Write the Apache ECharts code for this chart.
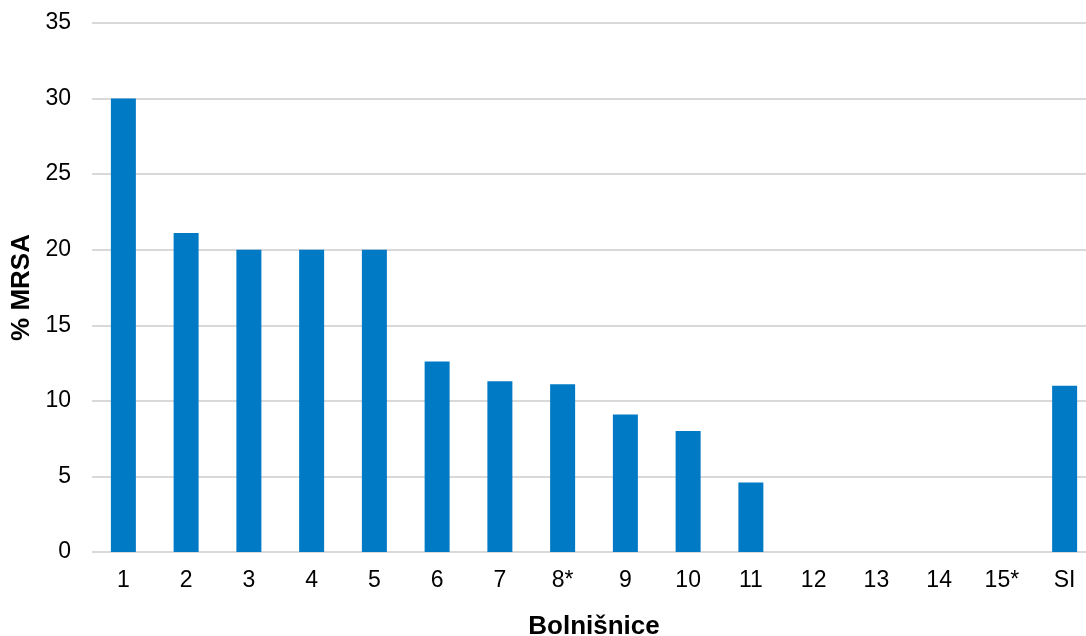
<!DOCTYPE html>
<html>
<head>
<meta charset="utf-8">
<script src="https://cdn.jsdelivr.net/npm/echarts@6/dist/echarts.min.js"></script>
<style>html,body{margin:0;padding:0;background:#fff;overflow:hidden;}#c{width:1086px;height:636px;}</style>
</head>
<body>
<div id="c"></div>
<script>
const categories = ['1','2','3','4','5','6','7','8*','9','10','11','12','13','14','15*','SI'];
const mrsaValues = [30, 21.1, 20, 20, 20, 12.6, 11.3, 11.1, 9.1, 8.0, 4.6, 0, 0, 0, 0, 11.0];
const yTicks = { min: 0, max: 35, interval: 5 };

const FONT = 'Liberation Sans, Arial, sans-serif';
const chart = echarts.init(document.getElementById('c'));
chart.setOption({
  animation: false,
  grid: { left: 92, right: -10, top: 23, bottom: 84, containLabel: false, outerBoundsMode: 'none' },
  xAxis: {
    type: 'category',
    data: categories,
    axisLine: { show: false },
    axisTick: { show: false },
    axisLabel: { color: '#000', fontFamily: FONT, fontSize: 23, margin: 17 },
    name: 'Bolnišnice',
    nameLocation: 'middle',
    nameGap: 62,
    nameTextStyle: { color: '#000', fontFamily: FONT, fontSize: 26, fontWeight: 'bold' }
  },
  yAxis: {
    type: 'value',
    min: yTicks.min, max: yTicks.max, interval: yTicks.interval,
    axisLine: { show: false },
    axisTick: { show: false },
    splitLine: { lineStyle: { color: '#d9d9d9', width: 2 } },
    axisLabel: { color: '#000', fontFamily: FONT, fontSize: 23, margin: 21 },
    name: '% MRSA',
    nameLocation: 'middle',
    nameGap: 57,
    nameTextStyle: { color: '#000', fontFamily: FONT, fontSize: 26, fontWeight: 'bold' }
  },
  series: [{
    type: 'bar',
    data: mrsaValues,
    barWidth: 25,
    itemStyle: { color: '#007ac4' }
  }]
});
</script>
</body>
</html>
